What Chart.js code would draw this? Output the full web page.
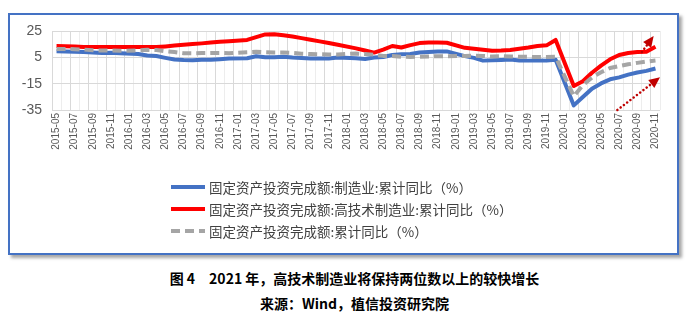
<!DOCTYPE html>
<html>
<head>
<meta charset="utf-8">
<script src="https://cdn.jsdelivr.net/npm/chart.js@4/dist/chart.umd.min.js"></script>
<style>
  body { margin: 0; background: #fff; }
  .page { position: relative; width: 689px; height: 317px; overflow: hidden; }
  .frame {
    position: absolute; left: 8px; top: 13px; width: 671px; height: 242px;
    box-sizing: border-box; border: 2px solid #4472C4;
    box-shadow: 3px 3px 3px rgba(0, 0, 0, 0.35);
  }
  .plot { position: absolute; left: 0; top: 0; width: 689px; height: 260px; }
  .cap {
    position: absolute; left: 0; width: 689px; padding-left: 20px; box-sizing: border-box;
    text-align: center; white-space: pre; color: #000;
    font: bold 14px "Noto Sans CJK SC", sans-serif; line-height: 20px;
  }
</style>
</head>
<body>
<div class="page">
  <div class="frame"></div>
  <div class="plot"><canvas id="chart-fai"></canvas></div>
  <div class="cap" style="top:268px">图 4　2021 年，高技术制造业将保持两位数以上的较快增长</div>
  <div class="cap" style="top:293px">来源：Wind，植信投资研究院</div>
</div>
<script>
const COLORS = { azul: '#4472C4', rojo: '#FF0000', gris: '#A5A5A5', flecha: '#C00000' };

// 月份（累计同比，1月无数据）
const months = [
    '2015-05', '2015-06', '2015-07', '2015-08', '2015-09', '2015-10', '2015-11', '2015-12',
    '2016-01', '2016-02', '2016-03', '2016-04', '2016-05', '2016-06', '2016-07', '2016-08', '2016-09', '2016-10', '2016-11', '2016-12',
    '2017-01', '2017-02', '2017-03', '2017-04', '2017-05', '2017-06', '2017-07', '2017-08', '2017-09', '2017-10', '2017-11', '2017-12',
    '2018-01', '2018-02', '2018-03', '2018-04', '2018-05', '2018-06', '2018-07', '2018-08', '2018-09', '2018-10', '2018-11', '2018-12',
    '2019-01', '2019-02', '2019-03', '2019-04', '2019-05', '2019-06', '2019-07', '2019-08', '2019-09', '2019-10', '2019-11', '2019-12',
    '2020-01', '2020-02', '2020-03', '2020-04', '2020-05', '2020-06', '2020-07', '2020-08', '2020-09', '2020-10', '2020-11'
];

const zhizao = [
    9.6, 9.5, 9.3, 9.0, 8.6, 8.3, 8.4, 8.1,
    null, 7.5, 6.4, 6.0, 4.6, 3.3, 2.9, 2.8, 3.1, 3.1, 3.6, 4.2,
    null, 4.3, 5.8, 5.0, 5.1, 5.5, 4.8, 4.5, 4.2, 4.1, 4.1, 4.8,
    null, 4.3, 3.8, 4.8, 5.2, 6.8, 7.3, 7.5, 8.7, 9.1, 9.5, 9.5,
    null, 5.9, 4.6, 2.5, 2.7, 3.0, 3.3, 2.6, 2.5, 2.6, 2.5, 3.1,
    null, -31.5, -25.2, -18.8, -14.8, -11.7, -10.2, -8.1, -6.5, -5.3, -3.5
];

const gaojishu = [
    13.6, 13.5, 13.3, 12.9, 12.8, 12.8, 12.8, 12.8,
    null, 12.8, 12.8, 12.8, 13.3, 13.9, 14.5, 15.1, 15.6, 16.2, 16.8, 17.2,
    null, 18.2, 20.4, 22.4, 22.5, 21.7, 20.8, 19.6, 18.3, 17.1, 15.9, 14.5,
    null, 11.8, 10.2, 8.6, 10.8, 13.6, 12.5, 14.3, 15.8, 16.2, 16.2, 16.1,
    null, 12.2, 11.6, 10.8, 10.0, 10.1, 10.6, 11.5, 12.4, 13.6, 14.1, 18.2,
    null, -16.8, -13.2, -6.7, -1.3, 3.5, 6.8, 8.3, 9.0, 9.3, 13.0
];

const zongti = [
    11.4, 11.4, 11.2, 10.9, 10.3, 10.2, 10.2, 10.0,
    null, 10.2, 10.7, 10.5, 9.6, 9.0, 8.1, 8.1, 8.2, 8.3, 8.3, 8.1,
    null, 8.9, 9.2, 8.9, 8.6, 8.6, 8.3, 7.8, 7.5, 7.3, 7.2, 7.2,
    null, 7.9, 7.5, 7.0, 6.1, 6.0, 5.5, 5.3, 5.4, 5.7, 5.9, 5.9,
    null, 6.1, 6.3, 6.1, 5.6, 5.8, 5.7, 5.5, 5.4, 5.2, 5.2, 5.4,
    null, -24.5, -16.1, -10.3, -6.3, -3.1, -1.6, -0.3, 0.8, 1.8, 2.6
];

const seriesNames = [
    '固定资产投资完成额:制造业:累计同比（%）',
    '固定资产投资完成额:高技术制造业:累计同比（%）',
    '固定资产投资完成额:累计同比（%）'
];

// 趋势箭头：[月份序号, 数值]
const arrowTail = [[64.5, 9.0], [61.8, -35]];
const arrowHead = [[65.8, 21.2], [66.5, -10.2]];

const yTicks = [25, 5, -15, -35];

const GRID_MAJOR = '#D9D9D9';
const GRID_MINOR = '#EDEDED';

// 图例（竖排，左对齐）+ 虚线箭头
const extras = {
    id: 'extras',
    afterDraw(chart) {
        const ctx = chart.ctx;
        const { x, y } = chart.scales;

        ctx.save();
        ctx.strokeStyle = COLORS.flecha;
        ctx.fillStyle = COLORS.flecha;
        ctx.lineWidth = 2.5;
        ctx.lineCap = 'round';
        arrowTail.forEach((t, i) => {
            const x0 = x.getPixelForValue(t[0]), y0 = y.getPixelForValue(t[1]);
            const x1 = x.getPixelForValue(arrowHead[i][0]), y1 = y.getPixelForValue(arrowHead[i][1]);
            const ang = Math.atan2(y1 - y0, x1 - x0);
            const len = 11;
            ctx.setLineDash([0.1, 4]);
            ctx.beginPath();
            ctx.moveTo(x0, y0);
            ctx.lineTo(x1 - Math.cos(ang) * len, y1 - Math.sin(ang) * len);
            ctx.stroke();
            ctx.setLineDash([]);
            ctx.beginPath();
            ctx.moveTo(x1, y1);
            ctx.lineTo(x1 - Math.cos(ang) * len + Math.sin(ang) * 5, y1 - Math.sin(ang) * len - Math.cos(ang) * 5);
            ctx.lineTo(x1 - Math.cos(ang) * len - Math.sin(ang) * 5, y1 - Math.sin(ang) * len + Math.cos(ang) * 5);
            ctx.closePath();
            ctx.fill();
        });
        ctx.restore();

        ctx.save();
        ctx.font = '13.5px "Noto Sans CJK SC", sans-serif';
        ctx.textBaseline = 'middle';
        chart.data.datasets.forEach((ds, i) => {
            const rowY = 187 + i * 22;
            ctx.strokeStyle = ds.borderColor;
            ctx.lineWidth = 4;
            ctx.lineCap = 'butt';
            ctx.setLineDash(ds.borderDash || []);
            ctx.beginPath();
            ctx.moveTo(171, rowY);
            ctx.lineTo(205, rowY);
            ctx.stroke();
            ctx.setLineDash([]);
            ctx.fillStyle = '#404040';
            ctx.fillText(ds.label, 209, rowY + 1);
        });
        ctx.restore();
    }
};

const lineBase = { pointRadius: 0, borderWidth: 4, tension: 0, spanGaps: true, borderJoinStyle: 'round', fill: false };

new Chart(document.getElementById('chart-fai'), {
    type: 'line',
    data: {
        labels: months,
        datasets: [
            { ...lineBase, label: seriesNames[0], data: zhizao, borderColor: COLORS.azul, order: 2 },
            { ...lineBase, label: seriesNames[1], data: gaojishu, borderColor: COLORS.rojo, order: 1 },
            { ...lineBase, label: seriesNames[2], data: zongti, borderColor: COLORS.gris, borderDash: [9, 5], order: 0 }
        ]
    },
    options: {
        responsive: true,
        maintainAspectRatio: false,
        animation: false,
        layout: { padding: { left: 8, top: 31, right: 29, bottom: 100 } },
        plugins: { legend: { display: false }, tooltip: { enabled: false } },
        scales: {
            x: {
                offset: true,
                border: { display: false },
                grid: {
                    offset: true, drawTicks: false, lineWidth: 1,
                    color: c => (c.index % 2 === 0 ? GRID_MAJOR : GRID_MINOR)
                },
                ticks: {
                    autoSkip: false, minRotation: 90, maxRotation: 90, padding: 3,
                    color: '#595959', font: { family: '"Liberation Sans", Arial, sans-serif', size: 10 },
                    callback: (v, i) => (i % 2 === 0 ? months[i] : '')
                },
                afterFit: s => { s.height = 50; }
            },
            y: {
                min: -35, max: 25,
                border: { display: false },
                grid: {
                    drawTicks: false, lineWidth: 1,
                    color: c => (yTicks.includes(c.tick.value) ? GRID_MAJOR : GRID_MINOR)
                },
                ticks: {
                    stepSize: 5, padding: 10,
                    color: '#595959', font: { family: '"Liberation Sans", Arial, sans-serif', size: 14 },
                    callback: v => (yTicks.includes(v) ? v : '')
                },
                afterFit: s => { s.width = 44; }
            }
        }
    },
    plugins: [extras]
});
</script>
</body>
</html>
